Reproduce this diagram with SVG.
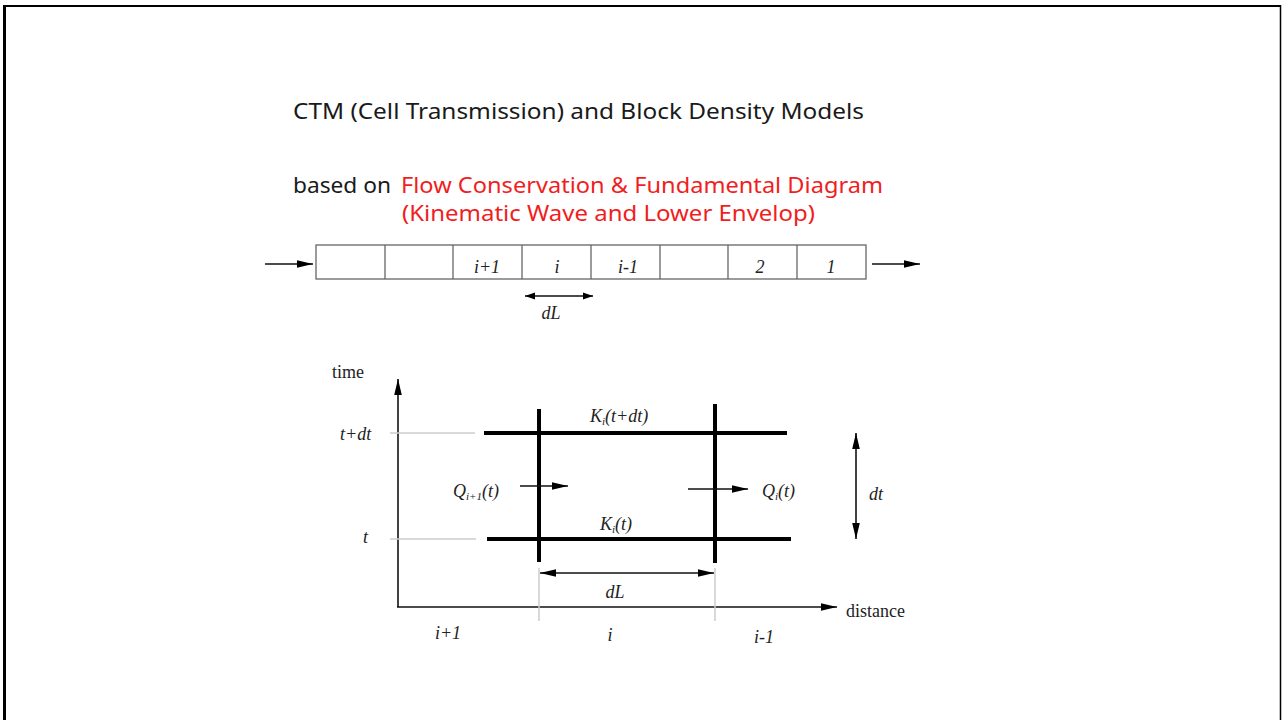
<svg xmlns="http://www.w3.org/2000/svg" width="1282" height="720" viewBox="0 0 1282 720">
<style>
.title{font-family:"Noto Sans","Liberation Sans",sans-serif;font-size:22px;fill:#1a1a1a}
.red{fill:#f01e1e}
.lbl{font-family:"Liberation Serif",serif;font-size:18px;font-style:italic;fill:#222}
.up{font-family:"Liberation Serif",serif;font-size:18px;fill:#222}
.sub{font-size:11px}
.cell{fill:#fff;stroke:#666;stroke-width:1.3}
.div{stroke:#666;stroke-width:1.3}
.thin{stroke:#111;stroke-width:1.6;fill:none}
.thick{stroke:#000;stroke-width:4;fill:none}
.gray{stroke:#ccc;stroke-width:1.5;fill:none}
</style>
<defs>
<marker id="ah" viewBox="0 0 10 10" refX="10" refY="5" markerWidth="10" markerHeight="10" markerUnits="userSpaceOnUse" orient="auto-start-reverse"><path d="M0,1.5 L10,5 L0,8.5 Z" fill="#000"/></marker>
<marker id="ahL" viewBox="0 0 16 10" refX="16" refY="5" markerWidth="18" markerHeight="10" markerUnits="userSpaceOnUse" orient="auto-start-reverse"><path d="M0,1.2 L16,5 L0,8.8 Z" fill="#000"/></marker>
</defs>
<rect width="1282" height="720" fill="#fff"/>
<g id="frame">
<line x1="4.5" y1="5" x2="4.5" y2="720" stroke="#000" stroke-width="3"/>
<line x1="3" y1="6" x2="1281" y2="6" stroke="#000" stroke-width="2"/>
<line x1="1280.5" y1="5" x2="1280.5" y2="720" stroke="#000" stroke-width="1.5"/>
</g>
<g id="titles">
<text class="title" x="293" y="119" textLength="571" lengthAdjust="spacingAndGlyphs">CTM (Cell Transmission) and Block Density Models</text>
<text class="title" x="293" y="193" textLength="98" lengthAdjust="spacingAndGlyphs">based on</text>
<text class="title red" x="401" y="193" textLength="482" lengthAdjust="spacingAndGlyphs">Flow Conservation &amp; Fundamental Diagram</text>
<text class="title red" x="402" y="221" textLength="413" lengthAdjust="spacingAndGlyphs">(Kinematic Wave and Lower Envelop)</text>
</g>
<g id="cells">
<rect class="cell" x="316" y="245" width="550" height="34"/>
<line class="div" x1="385" y1="245" x2="385" y2="279"/>
<line class="div" x1="453" y1="245" x2="453" y2="279"/>
<line class="div" x1="522" y1="245" x2="522" y2="279"/>
<line class="div" x1="591" y1="245" x2="591" y2="279"/>
<line class="div" x1="660" y1="245" x2="660" y2="279"/>
<line class="div" x1="728" y1="245" x2="728" y2="279"/>
<line class="div" x1="797" y1="245" x2="797" y2="279"/>
<text class="lbl" x="487" y="273" text-anchor="middle">i+1</text>
<text class="lbl" x="557" y="273" text-anchor="middle">i</text>
<text class="lbl" x="628" y="273" text-anchor="middle">i-1</text>
<text class="lbl" x="760" y="273" text-anchor="middle">2</text>
<text class="lbl" x="831" y="273" text-anchor="middle">1</text>
<text class="lbl" x="551" y="319" text-anchor="middle">dL</text>
</g>
<g id="axes">
<text class="up" x="332" y="378">time</text>
<text class="up" x="846" y="617">distance</text>
<text class="lbl" x="340" y="440">t+dt</text>
<text class="lbl" x="363" y="543">t</text>
<text class="lbl" x="448" y="639" text-anchor="middle">i+1</text>
<text class="lbl" x="610" y="641" text-anchor="middle">i</text>
<text class="lbl" x="764" y="643" text-anchor="middle">i-1</text>
</g>
<g id="cell-box">
<line class="thick" x1="484" y1="433" x2="787" y2="433"/>
<line class="thick" x1="487" y1="539" x2="791" y2="539"/>
<line class="thick" x1="539" y1="409" x2="539" y2="562"/>
<line class="thick" x1="715" y1="404" x2="715" y2="563"/>
<text class="lbl" x="590" y="422">K<tspan class="sub" dy="3">i</tspan><tspan dy="-3">(t+dt)</tspan></text>
<text class="lbl" x="600" y="530">K<tspan class="sub" dy="3">i</tspan><tspan dy="-3">(t)</tspan></text>
<text class="lbl" x="453" y="497">Q<tspan class="sub" dy="3">i+1</tspan><tspan dy="-3">(t)</tspan></text>
<text class="lbl" x="762" y="497">Q<tspan class="sub" dy="3">i</tspan><tspan dy="-3">(t)</tspan></text>
<text class="lbl" x="615" y="598" text-anchor="middle">dL</text>
<text class="lbl" x="869" y="500">dt</text>
</g>
<g id="connectors">
<line class="thin" x1="265" y1="264" x2="313" y2="264" marker-end="url(#ahL)"/>
<line class="thin" x1="872" y1="264" x2="920" y2="264" marker-end="url(#ahL)"/>
<line class="thin" x1="525" y1="296" x2="593" y2="296" marker-start="url(#ah)" marker-end="url(#ah)"/>
<line class="thin" x1="398" y1="607" x2="398" y2="379" marker-end="url(#ahL)"/>
<line class="thin" x1="397" y1="607" x2="837" y2="607" marker-end="url(#ahL)"/>
<line class="gray" x1="390" y1="433" x2="475" y2="433"/>
<line class="gray" x1="390" y1="539" x2="476" y2="539"/>
<line class="gray" x1="539" y1="568" x2="539" y2="621"/>
<line class="gray" x1="715" y1="568" x2="715" y2="621"/>
<line class="thin" x1="540" y1="573" x2="714" y2="573" marker-start="url(#ahL)" marker-end="url(#ahL)"/>
<line class="thin" x1="520" y1="486" x2="568" y2="486" marker-end="url(#ahL)"/>
<line class="thin" x1="688" y1="489" x2="748" y2="489" marker-end="url(#ahL)"/>
<line class="thin" x1="856" y1="433" x2="856" y2="539" marker-start="url(#ahL)" marker-end="url(#ahL)"/>
</g>
</svg>
